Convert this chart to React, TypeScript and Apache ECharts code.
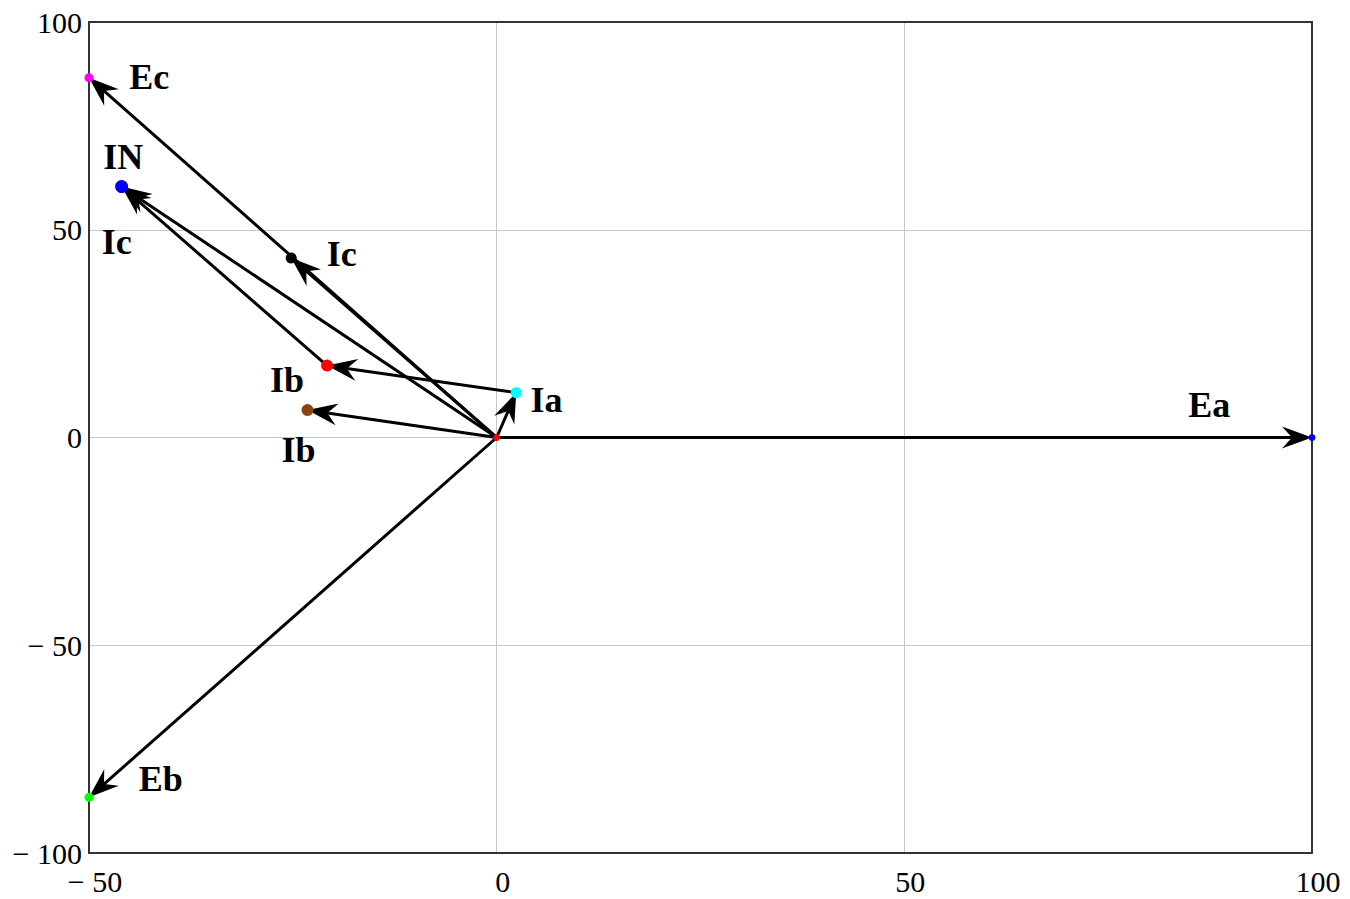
import React, { useEffect, useRef } from "react";
import * as echarts from "echarts";

// Axis ticks
const xMin = -50;
const xMax = 100;
const xStep = 50;
const yMin = -100;
const yMax = 100;
const yStep = 50;

// Vectors (phasors): start and end points in data units
const vectorNames = ["Ea", "Eb", "Ec", "Ia", "Ib", "Ic", "Ib (from Ia)", "Ic (from Ia+Ib)", "IN"];
const vectorFromX = [0, 0, 0, 0, 0, 0, 2.4, -20.8, 0];
const vectorFromY = [0, 0, 0, 0, 0, 0, 10.8, 17.3, 0];
const vectorToX = [100, -50, -50, 2.4, -23.2, -25.2, -20.8, -46.0, -46.0];
const vectorToY = [0, -86.6, 86.6, 10.8, 6.6, 43.2, 17.3, 60.4, 60.4];

// Marker points at the vector tips
const pointNames = ["O", "Ea", "Eb", "Ec", "Ia", "Ib", "Ic", "Ia+Ib", "IN"];
const pointX = [0, 100, -50, -50, 2.4, -23.2, -25.2, -20.8, -46.0];
const pointY = [0, 0, -86.6, 86.6, 10.8, 6.6, 43.2, 17.3, 60.4];

// Text labels and their anchor positions in data units
const labelTexts = ["Ec", "IN", "Ic", "Ic", "Ib", "Ia", "Ib", "Ea", "Eb"];
const labelX = [-42.6, -45.8, -46.6, -19.0, -25.7, 6.1, -24.3, 87.4, -41.2];
const labelY = [86.7, 67.5, 47.1, 44.2, 13.9, 9.1, -2.9, 7.9, -82.1];

// Styles
const pointColors: Record<string, string> = {
  O: "#ff0000",
  Ea: "#0000ff",
  Eb: "#00ff00",
  Ec: "#ff00ff",
  Ia: "#00ffff",
  Ib: "#8b4513",
  Ic: "#000000",
  "Ia+Ib": "#ff0000",
  IN: "#0000ff",
};
const pointSizes: Record<string, number> = {
  O: 7, Ea: 7, Eb: 9, Ec: 9, Ia: 11, Ib: 12, Ic: 11, "Ia+Ib": 12, IN: 13,
};

const FONT_TICK = "Liberation Serif";

function fmtTick(v: number): string {
  return v < 0 ? "\u2212 " + Math.abs(v) : String(v);
}

export default function App() {
  const ref = useRef<HTMLDivElement>(null);

  useEffect(() => {
    document.body.style.margin = "0";
    if (!ref.current) return;
    const chart = echarts.init(ref.current, undefined, { renderer: "svg" });

    const vectorData = vectorNames.map((n, i) => ({
      name: n,
      value: [vectorFromX[i], vectorFromY[i], vectorToX[i], vectorToY[i]],
    }));
    const pointData = pointNames.map((n, i) => ({
      name: n,
      value: [pointX[i], pointY[i]],
      symbolSize: pointSizes[n],
      itemStyle: { color: pointColors[n], opacity: 1 },
    }));
    const labelData = labelTexts.map((t, i) => ({ name: t, value: [labelX[i], labelY[i]] }));

    const axisLineStyle = { show: true, onZero: false, lineStyle: { color: "#333333", width: 2 } };

    const option: any = {
      animation: false,
      backgroundColor: "#ffffff",
      grid: { left: 89, right: 38, top: 22, bottom: 46, show: false },
      xAxis: [
        {
          type: "value",
          min: xMin,
          max: xMax,
          interval: xStep,
          position: "bottom",
          axisLine: axisLineStyle,
          axisTick: { show: false },
          splitLine: { show: true, showMinLine: false, showMaxLine: false, lineStyle: { color: "#c8c8c8", width: 1 } },
          axisLabel: {
            formatter: fmtTick,
            fontFamily: FONT_TICK,
            fontSize: 30,
            color: "#000",
            margin: 13,
            padding: [0, 0, 0, 12],
          },
        },
        {
          type: "value",
          min: xMin,
          max: xMax,
          interval: xStep,
          position: "top",
          axisLine: axisLineStyle,
          axisTick: { show: false },
          splitLine: { show: false },
          axisLabel: { show: false },
        },
      ],
      yAxis: [
        {
          type: "value",
          min: yMin,
          max: yMax,
          interval: yStep,
          position: "left",
          axisLine: axisLineStyle,
          axisTick: { show: false },
          splitLine: { show: true, showMinLine: false, showMaxLine: false, lineStyle: { color: "#c8c8c8", width: 1 } },
          axisLabel: {
            formatter: fmtTick,
            fontFamily: FONT_TICK,
            fontSize: 30,
            color: "#000",
            margin: 7,
          },
        },
        {
          type: "value",
          min: yMin,
          max: yMax,
          interval: yStep,
          position: "right",
          axisLine: axisLineStyle,
          axisTick: { show: false },
          splitLine: { show: false },
          axisLabel: { show: false },
        },
      ],
      series: [
        {
          type: "custom",
          name: "vectors",
          xAxisIndex: 0,
          yAxisIndex: 0,
          clip: false,
          z: 3,
          encode: { x: [0, 2], y: [1, 3] },
          data: vectorData,
          renderItem: (params: any, api: any) => {
            const a = api.coord([api.value(0), api.value(1)]);
            const b = api.coord([api.value(2), api.value(3)]);
            const dx = b[0] - a[0];
            const dy = b[1] - a[1];
            const len = Math.hypot(dx, dy) || 1;
            const ux = dx / len;
            const uy = dy / len;
            const px = -uy;
            const py = ux;
            const L = 30;
            const N = 20;
            const W = 11;
            const back = [b[0] - ux * L, b[1] - uy * L];
            const notch = [b[0] - ux * N, b[1] - uy * N];
            return {
              type: "group",
              children: [
                {
                  type: "line",
                  shape: { x1: a[0], y1: a[1], x2: notch[0], y2: notch[1] },
                  style: { stroke: "#000000", lineWidth: 3 },
                },
                {
                  type: "polygon",
                  shape: {
                    points: [
                      [b[0], b[1]],
                      [back[0] + px * W, back[1] + py * W],
                      [notch[0], notch[1]],
                      [back[0] - px * W, back[1] - py * W],
                    ],
                  },
                  style: { fill: "#000000" },
                },
              ],
            };
          },
        },
        {
          type: "scatter",
          name: "points",
          xAxisIndex: 0,
          yAxisIndex: 0,
          symbol: "circle",
          data: pointData,
          z: 4,
          silent: true,
        },
        {
          type: "scatter",
          name: "labels",
          xAxisIndex: 0,
          yAxisIndex: 0,
          symbol: "circle",
          symbolSize: 1,
          itemStyle: { color: "rgba(0,0,0,0)", opacity: 1 },
          z: 5,
          silent: true,
          data: labelData,
          label: {
            show: true,
            position: "inside",
            formatter: (p: any) => p.name,
            fontFamily: "Liberation Serif",
            fontWeight: "bold",
            fontSize: 36,
            color: "#000000",
            opacity: 1,
            textBorderWidth: 0,
          },
        },
      ],
    };

    chart.setOption(option);
    return () => {
      chart.dispose();
    };
  }, []);

  return <div ref={ref} style={{ width: 1350, height: 899 }} />;
}
